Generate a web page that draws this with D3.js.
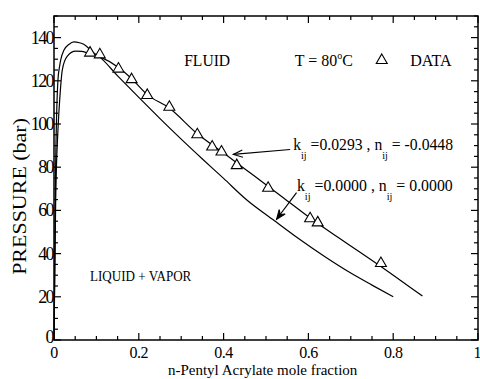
<!DOCTYPE html>
<html>
<head>
<meta charset="utf-8">
<script src="https://d3js.org/d3.v7.min.js"></script>
<style>
    body { margin: 0; background: white; }
    text, tspan { font-family: "Liberation Serif", "Times New Roman", serif; fill: #000; }
    .curve { fill: none; stroke: black; stroke-width: 1.2px; }
    .frame { fill: none; stroke: black; stroke-width: 1.5px; }
    .tick { stroke: black; stroke-width: 1.2px; }
</style>
</head>
<body>
<svg id="chart" width="480" height="379"></svg>
<script>
    // data
    const dataX = [0.085, 0.108, 0.152, 0.183, 0.220, 0.272, 0.338, 0.373, 0.395, 0.431, 0.505, 0.604, 0.622, 0.771];
    const dataP = [132.9, 132.1, 125.5, 120.6, 113.3, 107.8, 95.1, 89.4, 87.1, 80.8, 70.3, 56.2, 54.3, 35.5];

    // kij = 0.0293, nij = -0.0448
    const fitX = [0, 0.004, 0.0094, 0.014, 0.0197, 0.031, 0.051, 0.065, 0.079, 0.106, 0.153, 0.185, 0.22, 0.271, 0.338, 0.397, 0.472, 0.54, 0.604, 0.68, 0.771, 0.82, 0.869];
    const fitP = [0, 65, 97.5, 112.8, 125.2, 131.3, 133.7, 133.6, 132.9, 131.3, 126, 120.6, 113.6, 107.5, 95.5, 87, 76, 66, 56.5, 46.2, 34, 27.2, 20.4];

    // kij = 0, nij = 0
    const zeroX = [0, 0.002, 0.004, 0.0063, 0.0094, 0.013, 0.016, 0.024, 0.035, 0.047, 0.06, 0.071, 0.094, 0.106, 0.15, 0.2, 0.25, 0.3, 0.35, 0.4, 0.452, 0.52, 0.58, 0.64, 0.698, 0.75, 0.8];
    const zeroP = [0, 40, 82, 105, 120.6, 126.5, 129.8, 134.4, 136.8, 138, 137.6, 136.8, 132.9, 131.3, 122.3, 112.3, 102.5, 93, 83.8, 74.8, 65.3, 55.2, 46.5, 38.4, 31.2, 25.4, 20];

    const xTicks = [0, 0.2, 0.4, 0.6, 0.8, 1];
    const xTickLabels = ["0", "0.2", "0.4", "0.6", "0.8", "1"];
    const yTicks = [0, 20, 40, 60, 80, 100, 120, 140];

    const svg = d3.select("svg#chart");
    const margin = { top: 16, right: 2, bottom: 39, left: 54 };
    const width = 480 - margin.left - margin.right;
    const height = 379 - margin.top - margin.bottom;

    const x = d3.scaleLinear().domain([0, 1]).range([0, width]);
    const y = d3.scaleLinear().domain([0, 150]).range([height, 0]);

    const g = svg.append("g")
        .attr("transform", "translate(" + margin.left + "," + margin.top + ")");

    // squeeze a text horizontally so it spans the given width (the original uses a narrow Times)
    function fitText(parent, px, py, w, size, anchor) {
        const grp = parent.append("g");
        const t = grp.append("text").attr("font-size", size);
        return {
            text: t,
            done: function () {
                const bw = t.node().getBBox().width;
                const s = w / bw;
                const dx = anchor === "middle" ? -w / 2 : 0;
                grp.attr("transform", "translate(" + (px + dx) + "," + py + ") scale(" + s + ",1)");
            }
        };
    }

    // inward ticks on all four sides
    const xMinor = d3.range(0, 1.0001, 0.05);
    const yMinor = d3.range(0, 150.001, 5);
    const isMajorX = v => Math.abs(v * 5 - Math.round(v * 5)) < 1e-6;
    const isMajorY = v => Math.round(v) % 20 === 0;

    g.selectAll("line.xb").data(xMinor).join("line")
        .attr("class", "tick")
        .attr("x1", d => x(d)).attr("x2", d => x(d))
        .attr("y1", height).attr("y2", d => height - (isMajorX(d) ? 7 : 4));
    g.selectAll("line.xt").data(xMinor).join("line")
        .attr("class", "tick")
        .attr("x1", d => x(d)).attr("x2", d => x(d))
        .attr("y1", 0).attr("y2", d => isMajorX(d) ? 7 : 4);
    g.selectAll("line.yl").data(yMinor).join("line")
        .attr("class", "tick")
        .attr("y1", d => y(d)).attr("y2", d => y(d))
        .attr("x1", 0).attr("x2", d => isMajorY(d) ? 7 : 4);
    g.selectAll("line.yr").data(yMinor).join("line")
        .attr("class", "tick")
        .attr("y1", d => y(d)).attr("y2", d => y(d))
        .attr("x1", width).attr("x2", d => width - (isMajorY(d) ? 7 : 4));

    g.append("rect").attr("class", "frame")
        .attr("x", 0).attr("y", 0).attr("width", width).attr("height", height);

    // tick labels
    g.selectAll("text.xl").data(xTicks).join("text")
        .attr("x", d => d === 1 ? x(d) + 3 : x(d)).attr("y", height + 18)
        .attr("text-anchor", d => d === 1 ? "end" : "middle")
        .attr("font-size", 16)
        .attr("letter-spacing", -0.5)
        .text((d, i) => xTickLabels[i]);
    g.selectAll("text.yl").data(yTicks).join("text")
        .attr("x", -1).attr("y", d => y(d) + (d === 0 ? 3 : 6))
        .attr("text-anchor", "end")
        .attr("font-size", 18)
        .attr("letter-spacing", -1.6)
        .text(d => d);

    // axis titles
    const xt = fitText(svg, 168, 375, 190, 15);
    xt.text.text("n-Pentyl Acrylate mole fraction");
    xt.done();

    const ytG = svg.append("g").attr("transform", "translate(26," + (margin.top + y(66.5)) + ") rotate(-90)");
    const yt = fitText(ytG, 0, 0, 157, 19, "middle");
    yt.text.text("PRESSURE (bar)");
    yt.done();

    // curves
    const line = d3.line()
        .x(d => x(d[0])).y(d => y(d[1]))
        .curve(d3.curveMonotoneX);
    g.append("path").attr("class", "curve")
        .attr("d", line(d3.zip(zeroX, zeroP)));
    g.append("path").attr("class", "curve")
        .attr("d", line(d3.zip(fitX, fitP)));

    // data triangles
    const tri = d3.symbol().type(d3.symbolTriangle).size(52);
    g.selectAll("path.pt").data(d3.zip(dataX, dataP)).join("path")
        .attr("transform", d => "translate(" + x(d[0]) + "," + y(d[1]) + ")")
        .attr("d", tri)
        .attr("fill", "white")
        .attr("stroke", "black")
        .attr("stroke-width", 1.1);

    // labels inside the plot
    const fluid = fitText(g, x(0.307), y(127), 46, 16);
    fluid.text.text("FLUID");
    fluid.done();

    const lv = fitText(g, x(0.085), y(27.2), 102, 14);
    lv.text.text("LIQUID + VAPOR");
    lv.done();

    const tl = fitText(g, x(0.568), y(127), 58, 16);
    tl.text.append("tspan").text("T = 80");
    tl.text.append("tspan").attr("font-size", 10).attr("dy", -7).text("o");
    tl.text.append("tspan").attr("dy", 7).text("C");
    tl.done();

    g.append("path")
        .attr("transform", "translate(" + x(0.773) + "," + y(129.5) + ")")
        .attr("d", tri)
        .attr("fill", "white").attr("stroke", "black").attr("stroke-width", 1.1);

    const dl = fitText(g, x(0.84), y(127), 42, 16);
    dl.text.text("DATA");
    dl.done();

    // k / n annotations
    function kn(xv, yv, w, kval, nval) {
        const f = fitText(g, x(xv), y(yv), w, 17);
        const t = f.text;
        t.append("tspan").text("k");
        t.append("tspan").attr("font-size", 11).attr("dy", 9).text("ij");
        t.append("tspan").attr("dy", -9).text(" =" + kval + " , n");
        t.append("tspan").attr("font-size", 11).attr("dy", 9).text("ij");
        t.append("tspan").attr("dy", -9).text(" = " + nval);
        f.done();
    }
    kn(0.564, 88, 160, "0.0293", "-0.0448");
    kn(0.573, 69, 156, "0.0000", "0.0000");

    // arrows
    function arrow(x0, y0, x1, y1, filled) {
        const sx = x(x0), sy = y(y0), ex = x(x1), ey = y(y1);
        const a = Math.atan2(ey - sy, ex - sx);
        const L = 10, w = 0.38;
        const p1 = [ex - L * Math.cos(a - w), ey - L * Math.sin(a - w)];
        const p2 = [ex - L * Math.cos(a + w), ey - L * Math.sin(a + w)];
        g.append("line").attr("class", "tick")
            .attr("x1", sx).attr("y1", sy).attr("x2", ex).attr("y2", ey)
            .attr("stroke-width", 1.1);
        const back = [ex - 0.6 * L * Math.cos(a), ey - 0.6 * L * Math.sin(a)];
        g.append("path")
            .attr("d", "M" + p1 + "L" + [ex, ey] + "L" + p2 + (filled ? "L" + back + "Z" : ""))
            .attr("fill", filled ? "black" : "none")
            .attr("stroke", "black").attr("stroke-width", 1.1);
    }
    arrow(0.557, 88.2, 0.423, 85.9, false);
    arrow(0.572, 68.2, 0.525, 55.9, true);
</script>
</body>
</html>
